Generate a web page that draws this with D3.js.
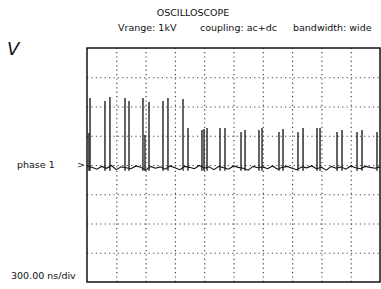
<!DOCTYPE html>
<html><head><meta charset="utf-8">
<script src="https://cdn.jsdelivr.net/npm/d3@7"></script>
<style>
body{margin:0;background:#fff;}
text{font-family:"DejaVu Sans",sans-serif;fill:#111;}
</style></head>
<body><svg id="c" width="381" height="289"></svg>
<script>
// time in ns (10 div x 300 ns), voltage in V (8 div x 125 V)
const timeTicks = [0,300,600,900,1200,1500,1800,2100,2400,2700,3000];
const voltTicks = [-500,-375,-250,-125,0,125,250,375,500];
const spikeTimes = [20,31,184,235,389,430,573,594,635,778,829,983,1034,1177,1198,1229,1362,1413,1577,1618,1761,1792,1966,2007,2160,2212,2355,2386,2560,2611,2765,2816,2969];
const spikeAmps  = [137,286,274,291,286,274,286,128,269,274,286,282,158,150,154,158,158,158,141,150,150,158,141,154,141,158,158,158,141,150,141,150,141];
const noise = [-4,-10,-18,-6,-14,-2,-20,-8,-12,-16,-4,-10,-22,-6,-14,-8,-18,-4,-12,-20,-6,-10,-16,-2,-14,-8,-20,-6,-12,-18,-4,-10,-14,-22,-6,-12,-8,-16,-4,-18,-10,-6,-14,-20,-8,-12,-4,-16,-10,-22,-6,-14,-8,-18,-4,-12,-16,-6,-10,-14,-8];

const svg = d3.select("#c");
const L=87,R=380,T=48,B=282;
const x = d3.scaleLinear().domain([0,3000]).range([L,R]);
const y = d3.scaleLinear().domain([-500,500]).range([B,T]);

// grid
svg.append("g").attr("transform",`translate(0,${B})`)
  .call(d3.axisBottom(x).tickValues(timeTicks.slice(1,-1)).tickSize(-(B-T)).tickFormat(""))
  .call(g=>{g.select(".domain").remove();
    g.selectAll("line").attr("stroke","#444").attr("stroke-width",1.2).attr("stroke-dasharray","1.2,3.2");});
svg.append("g").attr("transform",`translate(${L},0)`)
  .call(d3.axisLeft(y).tickValues(voltTicks.slice(1,-1)).tickSize(-(R-L)).tickFormat(""))
  .call(g=>{g.select(".domain").remove();
    g.selectAll("line").attr("stroke","#444").attr("stroke-width",1.2).attr("stroke-dasharray","1.2,3.2");});

// baseline trace
const nt = i => i*3000/(noise.length-1);
svg.append("path")
  .datum(noise)
  .attr("fill","none").attr("stroke","#111").attr("stroke-width",1.1)
  .attr("d", d3.line().x((d,i)=>x(nt(i))).y(d=>y(d)));

// spikes
svg.append("g").selectAll("line").data(spikeTimes).join("line")
  .attr("x1",d=>x(d)).attr("x2",d=>x(d))
  .attr("y1",y(-25)).attr("y2",(d,i)=>y(spikeAmps[i]))
  .attr("stroke","#222").attr("stroke-width",1.4);

// frame
svg.append("rect").attr("x",L).attr("y",T).attr("width",R-L).attr("height",B-T)
  .attr("fill","none").attr("stroke","#000").attr("stroke-width",1.4);

// texts
svg.append("text").attr("x",193).attr("y",16).attr("text-anchor","middle").attr("font-size",9.5).text("OSCILLOSCOPE");
svg.append("text").attr("x",118).attr("y",31).attr("font-size",9.5).text("Vrange: 1kV");
svg.append("text").attr("x",200).attr("y",31).attr("font-size",9.5).text("coupling: ac+dc");
svg.append("text").attr("x",293).attr("y",31).attr("font-size",9.5).text("bandwidth: wide");
svg.append("text").attr("x",7).attr("y",55).attr("font-size",18).attr("font-style","italic").text("V");
svg.append("text").attr("x",17).attr("y",168).attr("font-size",9.5).text("phase 1");
svg.append("text").attr("x",77).attr("y",168).attr("font-size",9.5).text(">");
svg.append("text").attr("x",11).attr("y",279).attr("font-size",9.5).text("300.00 ns/div");
</script></body></html>
